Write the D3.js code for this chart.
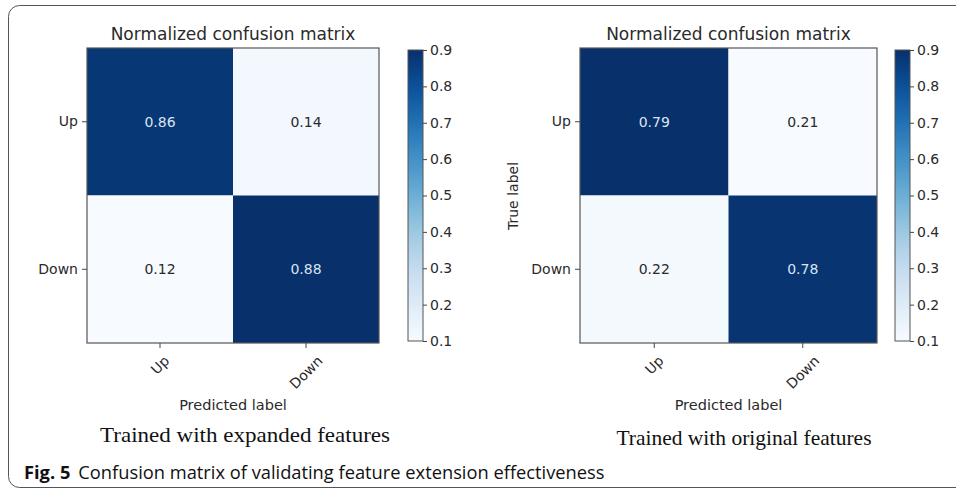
<!DOCTYPE html>
<html><head><meta charset="utf-8">
<script src="https://cdn.jsdelivr.net/npm/d3@7/dist/d3.min.js"></script>
<style>
html,body{margin:0;padding:0;background:#fff;}
svg{display:block;}
</style></head>
<body>
<svg id="chart" width="956" height="491"></svg>
<script>
const classes = ["Up", "Down"];
const leftValues = [[0.86, 0.14], [0.12, 0.88]];
const rightValues = [[0.79, 0.21], [0.22, 0.78]];
const colorbarTicks = [0.1, 0.2, 0.3, 0.4, 0.5, 0.6, 0.7, 0.8, 0.9];
const panelTitle = "Normalized confusion matrix";
const xAxisTitle = "Predicted label";
const yAxisTitle = "True label";
const captions = ["Trained with expanded features", "Trained with original features"];
const figLabel = "Fig. 5";
const figText = "Confusion matrix of validating feature extension effectiveness";

const svg = d3.select("#chart");
const tickFont = "DejaVu Sans, sans-serif";
const textCol = "#2a2a2a";

// outer frame
svg.append("rect").attr("x", 8.5).attr("y", 5.5).attr("width", 970).attr("height", 482)
  .attr("rx", 11).attr("fill", "none").attr("stroke", "#555").attr("stroke-width", 1);

const defs = svg.append("defs");
const grad = defs.append("linearGradient").attr("id", "cbgrad")
  .attr("x1", 0).attr("y1", 1).attr("x2", 0).attr("y2", 0);
d3.range(0, 1.0001, 0.05).forEach(t => {
  grad.append("stop").attr("offset", t).attr("stop-color", d3.interpolateBlues(t));
});

const panels = [
  {values: leftValues, x0: 87, x1: 379, cbx: 408, showY: false, caption: captions[0], capX: 245, capY: 442, capW: 290},
  {values: rightValues, x0: 580, x1: 877, cbx: 895, showY: true, caption: captions[1], capX: 744, capY: 445, capW: 255}
];
const y0 = 48, y1 = 343;

panels.forEach(p => {
  const g = svg.append("g");
  const x = d3.scaleBand().domain(classes).range([p.x0, p.x1]);
  const y = d3.scaleBand().domain(classes).range([y0, y1]);
  const flat = p.values.flat();
  const color = d3.scaleSequential(d3.interpolateBlues).domain([d3.min(flat), d3.max(flat)]);
  const thresh = (d3.min(flat) + d3.max(flat)) / 2;

  const cells = [];
  classes.forEach((r, i) => classes.forEach((c, j) => cells.push({r, c, v: p.values[i][j]})));

  g.selectAll("rect.cell").data(cells).enter().append("rect")
    .attr("class", "cell")
    .attr("x", d => x(d.c)).attr("y", d => y(d.r))
    .attr("width", x.bandwidth()).attr("height", y.bandwidth())
    .attr("fill", d => color(d.v));

  g.selectAll("text.val").data(cells).enter().append("text")
    .attr("x", d => x(d.c) + x.bandwidth() / 2)
    .attr("y", d => y(d.r) + y.bandwidth() / 2)
    .attr("text-anchor", "middle").attr("dominant-baseline", "central")
    .attr("font-family", tickFont).attr("font-size", 14)
    .attr("fill", d => d.v > thresh ? "#d9e4f2" : textCol)
    .text(d => d.v.toFixed(2));

  g.append("rect").attr("x", p.x0).attr("y", y0).attr("width", p.x1 - p.x0).attr("height", y1 - y0)
    .attr("fill", "none").attr("stroke", "#555").attr("stroke-width", 1.2);

  // y axis
  const ya = g.append("g").attr("transform", `translate(${p.x0},0)`)
    .call(d3.axisLeft(y).tickSize(5).tickPadding(4));
  ya.select(".domain").remove();
  ya.selectAll("line").attr("stroke", "#444");
  ya.selectAll("text").attr("font-family", tickFont).attr("font-size", 14).attr("fill", textCol);

  // x axis, labels rotated 45deg, centered on tick
  const xa = g.append("g").attr("transform", `translate(0,${y1})`)
    .call(d3.axisBottom(x).tickSize(5).tickPadding(3));
  xa.select(".domain").remove();
  xa.selectAll("line").attr("stroke", "#444");
  xa.selectAll("text").attr("font-family", tickFont).attr("font-size", 14).attr("fill", textCol)
    .attr("text-anchor", "middle").attr("dominant-baseline", "central").attr("dy", null).attr("y", 0)
    .each(function() {
      const L = this.getComputedTextLength();
      const half = (L + 12) * 0.7071 / 2;
      d3.select(this).attr("transform", `translate(0,${11 + half}) rotate(-45)`);
    });

  // title
  g.append("text").attr("x", (p.x0 + p.x1) / 2).attr("y", 40).attr("text-anchor", "middle")
    .attr("font-family", tickFont).attr("font-size", 17).attr("fill", textCol).text(panelTitle);

  g.append("text").attr("x", (p.x0 + p.x1) / 2).attr("y", 410).attr("text-anchor", "middle")
    .attr("font-family", tickFont).attr("font-size", 14.5).attr("fill", textCol).text(xAxisTitle);

  if (p.showY) {
    g.append("text").attr("transform", `translate(518,196) rotate(-90)`)
      .attr("text-anchor", "middle").attr("font-family", tickFont).attr("font-size", 14)
      .attr("fill", textCol).text(yAxisTitle);
  }

  // colorbar
  const cbY = d3.scaleLinear().domain([0.1, 0.9]).range([341, 50]);
  g.append("rect").attr("x", p.cbx).attr("y", cbY(0.9)).attr("width", 15)
    .attr("height", cbY(0.1) - cbY(0.9)).attr("fill", "url(#cbgrad)")
    .attr("stroke", "#555").attr("stroke-width", 1);
  const ca = g.append("g").attr("transform", `translate(${p.cbx + 15},0)`)
    .call(d3.axisRight(cbY).tickValues(colorbarTicks).tickFormat(d3.format(".1f")).tickSize(4).tickPadding(3));
  ca.select(".domain").remove();
  ca.selectAll("line").attr("stroke", "#444");
  ca.selectAll("text").attr("font-family", tickFont).attr("font-size", 14).attr("fill", textCol);

  // caption
  svg.append("text").attr("x", p.capX).attr("y", p.capY).attr("text-anchor", "middle")
    .attr("font-family", "Liberation Serif, serif").attr("font-size", 21).attr("fill", "#111")
    .attr("textLength", p.capW).attr("lengthAdjust", "spacingAndGlyphs")
    .text(p.caption);
});

const fig = svg.append("text").attr("x", 24).attr("y", 479)
  .attr("font-family", "Open Sans, Noto Sans, sans-serif").attr("font-size", 18.3).attr("fill", "#111");
fig.append("tspan").attr("font-weight", "bold").text(figLabel);
fig.append("tspan").attr("dx", 8).text(figText);
</script>
</body></html>
